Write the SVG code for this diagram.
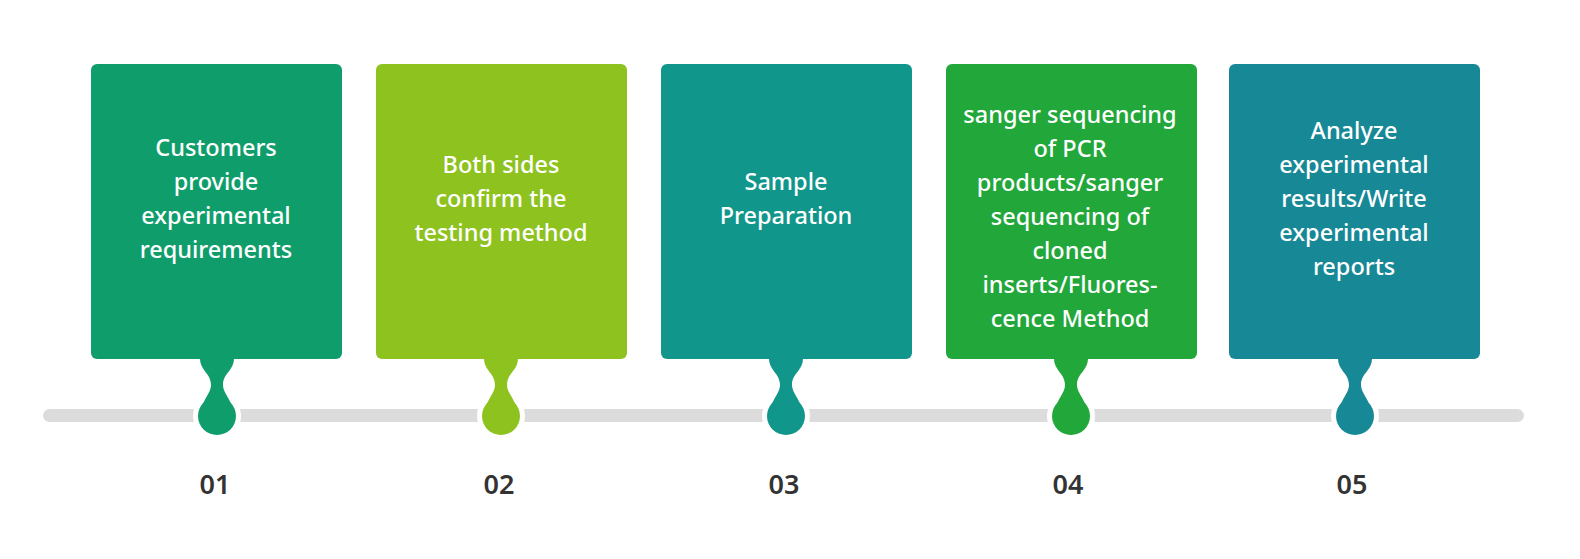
<svg xmlns="http://www.w3.org/2000/svg" width="1580" height="559" viewBox="0 0 1580 559">
<style>
.t{font-family:"Noto Sans","Open Sans",sans-serif;font-size:23.5px;font-weight:500;fill:#fff;text-anchor:middle}
.n{font-family:"Noto Sans","Open Sans",sans-serif;font-size:27px;font-weight:600;fill:#333;text-anchor:middle}
</style>
<rect width="1580" height="559" fill="#fff"/>
<g id="connectors">
<rect x="43" y="409" width="1481" height="13" rx="6.5" fill="#dcdcdc"/>
<circle cx="217" cy="416" r="24" fill="#fff"/>
<circle cx="501" cy="416" r="24" fill="#fff"/>
<circle cx="786" cy="416" r="24" fill="#fff"/>
<circle cx="1071" cy="416" r="24" fill="#fff"/>
<circle cx="1355" cy="416" r="24" fill="#fff"/>
</g>
<defs>
<path id="stem" d="M-17,-58 C-17,-45 -6,-43 -6,-31 C-6,-23 -14,-17 -14,-10 L14,-10 C14,-17 6,-23 6,-31 C6,-43 17,-45 17,-58 Z"/>
</defs>
<g id="node1">
<rect x="91" y="64" width="251" height="295" rx="6" fill="#0f9e6b"/>
<use href="#stem" x="217" y="416" fill="#0f9e6b"/>
<circle cx="217" cy="416" r="19" fill="#0f9e6b"/>
<text class="t" x="216" y="156">Customers</text>
<text class="t" x="216" y="190">provide</text>
<text class="t" x="216" y="224">experimental</text>
<text class="t" x="216" y="258">requirements</text>
<text class="n" x="215" y="494">01</text>
</g>
<g id="node2">
<rect x="376" y="64" width="251" height="295" rx="6" fill="#8dc21f"/>
<use href="#stem" x="501" y="416" fill="#8dc21f"/>
<circle cx="501" cy="416" r="19" fill="#8dc21f"/>
<text class="t" x="501" y="173">Both sides</text>
<text class="t" x="501" y="207">confirm the</text>
<text class="t" x="501" y="241">testing method</text>
<text class="n" x="499" y="494">02</text>
</g>
<g id="node3">
<rect x="661" y="64" width="251" height="295" rx="6" fill="#10968a"/>
<use href="#stem" x="786" y="416" fill="#10968a"/>
<circle cx="786" cy="416" r="19" fill="#10968a"/>
<text class="t" x="786" y="190">Sample</text>
<text class="t" x="786" y="224">Preparation</text>
<text class="n" x="784" y="494">03</text>
</g>
<g id="node4">
<rect x="946" y="64" width="251" height="295" rx="6" fill="#21a73a"/>
<use href="#stem" x="1071" y="416" fill="#21a73a"/>
<circle cx="1071" cy="416" r="19" fill="#21a73a"/>
<text class="t" x="1070" y="123">sanger sequencing</text>
<text class="t" x="1070" y="157">of PCR</text>
<text class="t" x="1070" y="191">products/sanger</text>
<text class="t" x="1070" y="225">sequencing of</text>
<text class="t" x="1070" y="259">cloned</text>
<text class="t" x="1070" y="293">inserts/Fluores-</text>
<text class="t" x="1070" y="327">cence Method</text>
<text class="n" x="1068" y="494">04</text>
</g>
<g id="node5">
<rect x="1229" y="64" width="251" height="295" rx="6" fill="#178896"/>
<use href="#stem" x="1355" y="416" fill="#178896"/>
<circle cx="1355" cy="416" r="19" fill="#178896"/>
<text class="t" x="1354" y="139">Analyze</text>
<text class="t" x="1354" y="173">experimental</text>
<text class="t" x="1354" y="207">results/Write</text>
<text class="t" x="1354" y="241">experimental</text>
<text class="t" x="1354" y="275">reports</text>
<text class="n" x="1352" y="494">05</text>
</g>
</svg>
